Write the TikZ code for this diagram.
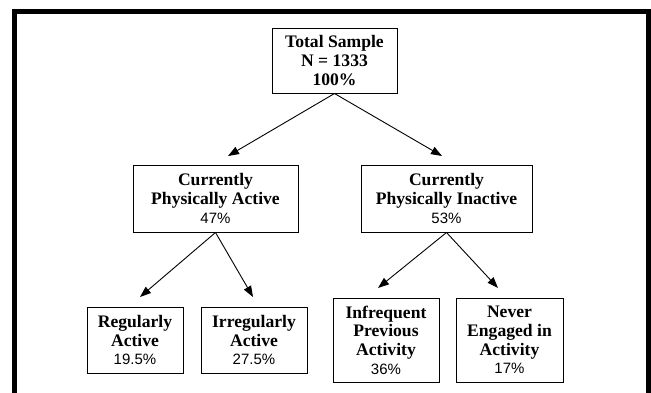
\documentclass[tikz,border=0pt]{standalone}
\usepackage{fontspec}
\setmainfont{Liberation Serif}
\newfontfamily\pctfont{Liberation Sans}
\usetikzlibrary{arrows.meta}
\begin{document}
\begin{tikzpicture}[x=1pt,y=-1pt,
  box/.style={draw,line width=1pt,align=center,inner sep=0pt,
    font=\fontsize{17.6}{18.6}\selectfont\bfseries},
  arr/.style={line width=0.9pt,-{Triangle[length=11pt,width=8pt]}}]
\newcommand{\pct}[1]{{\pctfont\mdseries\fontsize{15}{18.6}\selectfont #1}}
\useasboundingbox (0,0) rectangle (651,392);
% frame
\draw[line width=5pt] (14.5,400) -- (14.5,11.5) -- (648.5,11.5) -- (648.5,400);
% nodes
\node[box,minimum width=125pt,minimum height=65pt] (top) at (334.5,60.5)
  {Total Sample\\N = 1333\\100\%};
\node[box,minimum width=165pt,minimum height=67pt] (ml) at (215.5,198.5)
  {Currently\\Physically Active\\\pct{47\%}};
\node[box,minimum width=171pt,minimum height=67pt] (mr) at (446.5,198.5)
  {Currently\\Physically Inactive\\\pct{53\%}};
\node[box,minimum width=96pt,minimum height=66pt] (ra) at (135,340)
  {Regularly\\Active\\\pct{19.5\%}};
\node[box,minimum width=106pt,minimum height=66pt] (ia) at (254,340)
  {Irregularly\\Active\\\pct{27.5\%}};
\node[box,minimum width=106pt,minimum height=84pt] (ip) at (386,340)
  {Infrequent\\Previous\\Activity\\\pct{36\%}};
\node[box,minimum width=107pt,minimum height=84pt] (ne) at (509.5,340)
  {Never\\Engaged in\\Activity\\\pct{17\%}};
% arrow tips
\coordinate (t1) at (228,156);
\coordinate (t2) at (442,156);
\coordinate (t3) at (140,297);
\coordinate (t4) at (253,297);
\coordinate (t5) at (378,288);
\coordinate (t6) at (498,288);
\draw[arr] (top.south) -- (t1);
\draw[arr] (top.south) -- (t2);
\draw[arr] (ml.south) -- (t3);
\draw[arr] (ml.south) -- (t4);
\draw[arr] (mr.south) -- (t5);
\draw[arr] (mr.south) -- (t6);
\end{tikzpicture}
\end{document}
